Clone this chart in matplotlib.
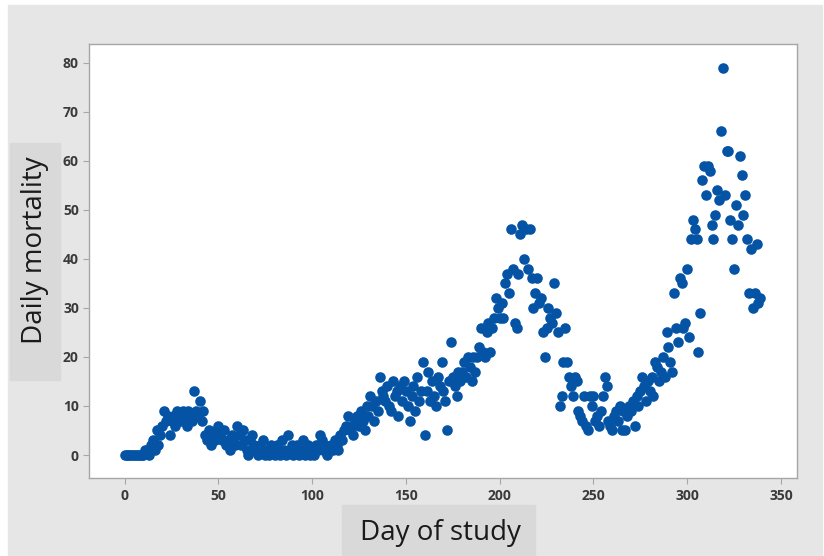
import numpy as np
import matplotlib.pyplot as plt
from matplotlib.patches import Rectangle

# daily mortality per day of study (days 0..339)
mortality = [
    0, 0, 0, 0, 0, 0, 0, 0, 0, 0,
    0, 1, 1, 0, 2, 3, 1, 5, 2, 4,
    6, 9, 7, 8, 4, 7, 8, 6, 9, 8,
    7, 9, 8, 6, 9, 8, 7, 13, 9, 8,
    11, 7, 9, 4, 3, 5, 2, 4, 3, 5,
    6, 4, 3, 5, 2, 3, 1, 4, 3, 2,
    6, 4, 2, 5, 3, 1, 0, 3, 4, 2,
    1, 0, 2, 1, 3, 0, 1, 0, 2, 1,
    0, 2, 1, 0, 3, 1, 0, 4, 1, 2,
    0, 1, 2, 0, 1, 3, 0, 1, 2, 0,
    1, 0, 2, 1, 4, 3, 1, 2, 0, 1,
    2, 1, 3, 2, 1, 4, 3, 5, 6, 8,
    5, 6, 4, 7, 8, 6, 9, 7, 5, 10,
    8, 12, 10, 7, 11, 9, 16, 13, 12, 11,
    14, 10, 9, 15, 12, 13, 8, 14, 11, 15,
    13, 10, 7, 12, 14, 9, 16, 11, 13, 19,
    4, 13, 17, 11, 15, 12, 10, 16, 14, 19,
    13, 11, 5, 15, 23, 16, 14, 12, 17, 15,
    17, 19, 16, 20, 18, 15, 20, 17, 20, 22,
    26, 21, 20, 25, 27, 21, 26, 28, 32, 30,
    28, 31, 28, 35, 37, 33, 46, 38, 27, 26,
    37, 45, 47, 40, 46, 38, 46, 36, 30, 33,
    36, 31, 32, 25, 20, 26, 30, 28, 27, 35,
    29, 25, 10, 12, 19, 26, 19, 16, 14, 12,
    16, 15, 9, 8, 7, 12, 6, 5, 12, 10,
    12, 7, 8, 6, 9, 12, 16, 14, 7, 6,
    5, 8, 9, 7, 10, 5, 9, 5, 8, 10,
    9, 11, 6, 12, 10, 13, 16, 14, 11, 15,
    13, 16, 12, 19, 18, 15, 17, 20, 16, 25,
    22, 19, 17, 33, 26, 23, 36, 35, 26, 27,
    38, 24, 44, 48, 46, 44, 21, 29, 56, 59,
    53, 59, 58, 47, 44, 49, 54, 52, 66, 79,
    53, 62, 62, 48, 44, 38, 51, 47, 61, 57,
    49, 53, 44, 33, 42, 30, 33, 43, 31, 32,
]
days = np.arange(len(mortality))

x_ticks = [0, 50, 100, 150, 200, 250, 300, 350]
y_ticks = [0, 10, 20, 30, 40, 50, 60, 70, 80]

W, H = 824, 556
fig = plt.figure(figsize=(W / 100, H / 100), dpi=100, facecolor='white')

# grey panel behind everything, plus darker label boxes
fig.patches.append(Rectangle((8 / W, 0), (W - 10) / W, (H - 5) / H,
                             transform=fig.transFigure, color='#e6e6e6', zorder=-3))
fig.patches.append(Rectangle((10 / W, 1 - 380 / H), 50 / W, 237 / H,
                             transform=fig.transFigure, color='#d9d9d9', zorder=-2))
fig.patches.append(Rectangle((342 / W, 0), 193 / W, 51 / H,
                             transform=fig.transFigure, color='#d9d9d9', zorder=-2))

ax = fig.add_axes([89.3 / W, 1 - 478.3 / H, (796.7 - 89.3) / W, (478.3 - 44.3) / H])
ax.set_facecolor('white')
ax.scatter(days, mortality, s=58, color='#0553a4', marker='o', linewidths=0, zorder=3)

ax.set_xlim(-18.9, 358.4)
ax.set_ylim(-4.75, 83.75)
ax.set_xticks(x_ticks)
ax.set_yticks(y_ticks)
for s in ax.spines.values():
    s.set_color('#a6a6a6')
    s.set_linewidth(1.0)
ax.tick_params(length=4, width=0.8, color='#a6a6a6', labelcolor='#3a3a3a', labelsize=10)
for lab in ax.get_xticklabels() + ax.get_yticklabels():
    lab.set_fontfamily('Open Sans')
    lab.set_fontweight('bold')

fig.text(35 / W, 1 - 250 / H, 'Daily mortality', rotation=90, ha='center', va='center',
         fontsize=20, family='Open Sans', color='#1a1a1a')
fig.text(440 / W, 1 - 533 / H, 'Day of study', ha='center', va='center',
         fontsize=20, family='Open Sans', color='#1a1a1a')

fig.savefig('out.png', dpi=100, facecolor=fig.get_facecolor())
